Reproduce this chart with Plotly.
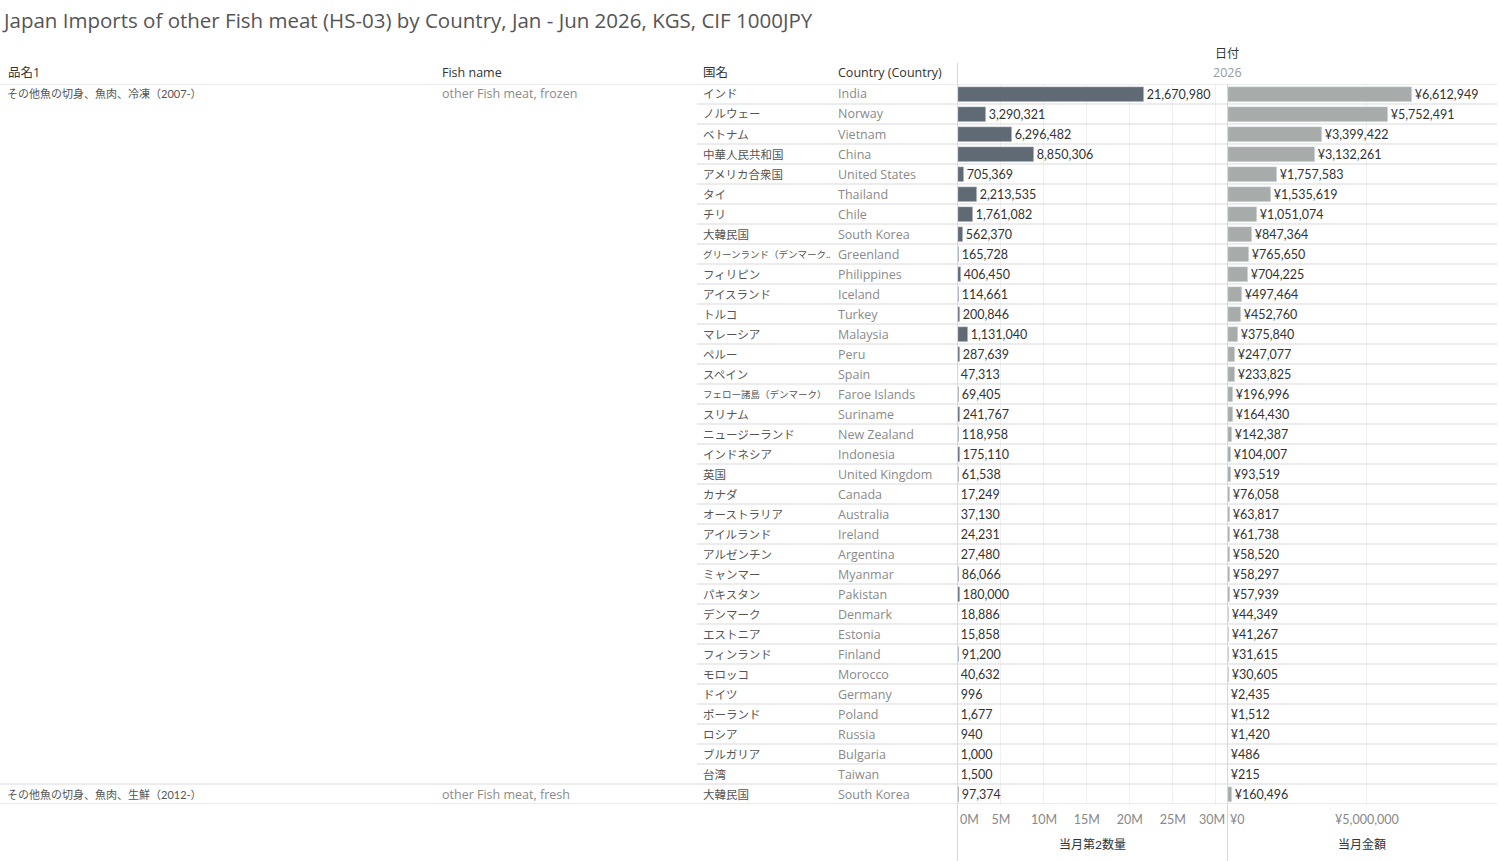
import plotly.graph_objects as go

W, H = 1499, 861

product_jp = ['その他魚の切身、魚肉、冷凍（2007-）', 'その他魚の切身、魚肉、生鮮（2012-）']
product_en = ['other Fish meat, frozen', 'other Fish meat, fresh']
product_rows = [0, 35]

country_jp = ['インド', 'ノルウェー', 'ベトナム', '中華人民共和国', 'アメリカ合衆国', 'タイ', 'チリ',
              '大韓民国', 'グリーンランド（デンマーク..', 'フィリピン', 'アイスランド', 'トルコ',
              'マレーシア', 'ペルー', 'スペイン', 'フェロー諸島（デンマーク）', 'スリナム',
              'ニュージーランド', 'インドネシア', '英国', 'カナダ', 'オーストラリア', 'アイルランド',
              'アルゼンチン', 'ミャンマー', 'パキスタン', 'デンマーク', 'エストニア', 'フィンランド',
              'モロッコ', 'ドイツ', 'ポーランド', 'ロシア', 'ブルガリア', '台湾', '大韓民国']
country_en = ['India', 'Norway', 'Vietnam', 'China', 'United States', 'Thailand', 'Chile',
              'South Korea', 'Greenland', 'Philippines', 'Iceland', 'Turkey', 'Malaysia', 'Peru',
              'Spain', 'Faroe Islands', 'Suriname', 'New Zealand', 'Indonesia', 'United Kingdom',
              'Canada', 'Australia', 'Ireland', 'Argentina', 'Myanmar', 'Pakistan', 'Denmark',
              'Estonia', 'Finland', 'Morocco', 'Germany', 'Poland', 'Russia', 'Bulgaria', 'Taiwan',
              'South Korea']
quantity = [21670980, 3290321, 6296482, 8850306, 705369, 2213535, 1761082, 562370, 165728,
            406450, 114661, 200846, 1131040, 287639, 47313, 69405, 241767, 118958, 175110,
            61538, 17249, 37130, 24231, 27480, 86066, 180000, 18886, 15858, 91200, 40632,
            996, 1677, 940, 1000, 1500, 97374]
amount = [6612949, 5752491, 3399422, 3132261, 1757583, 1535619, 1051074, 847364, 765650,
          704225, 497464, 452760, 375840, 247077, 233825, 196996, 164430, 142387, 104007,
          93519, 76058, 63817, 61738, 58520, 58297, 57939, 44349, 41267, 31615, 30605,
          2435, 1512, 1420, 486, 215, 160496]

qty_ticks = [0, 5e6, 10e6, 15e6, 20e6, 25e6, 30e6]
qty_ticktext = ['0M', '5M', '10M', '15M', '20M', '25M', '30M']
amt_ticks = [0, 5e6]
amt_ticktext = ['¥0', '¥5,000,000']

rows = list(range(len(country_en)))
LATIN = 'Open Sans, Noto Sans CJK JP, sans-serif'
NUM = 'Lato, Noto Sans CJK JP, sans-serif'
LINE = '#d9d9d9'


def px_x(p):
    return p / W


def px_y(p):
    return 1 - p / H


def label(x, y, text, font, xref='paper', yref='paper', xanchor='left', **kw):
    return dict(x=x, y=y, xref=xref, yref=yref, text=text, showarrow=False,
                xanchor=xanchor, yanchor='middle', font=font, **kw)


fig = go.Figure()
fig.add_trace(go.Bar(
    x=quantity, y=rows, orientation='h', xaxis='x', yaxis='y',
    marker_color='#5f6a75', width=0.75,
    text=[f'{v:,}' for v in quantity], textposition='outside',
    textfont=dict(size=12.5, color='#333333', family=NUM),
    cliponaxis=False, hoverinfo='skip'))
fig.add_trace(go.Bar(
    x=amount, y=rows, orientation='h', xaxis='x2', yaxis='y',
    marker_color='#a7abaa', width=0.75,
    text=[f'¥{v:,}' for v in amount], textposition='outside',
    textfont=dict(size=12.5, color='#333333', family=NUM),
    cliponaxis=False, hoverinfo='skip'))

jp_font = dict(size=11.5, color='#555555')
en_font = dict(size=12.5, color='#8a8a8a', family=LATIN)
head_font = dict(size=12.5, color='#333333', family=LATIN)

ann = []
for r, jp, en in zip(rows, country_jp, country_en):
    f = dict(jp_font, size=9.5) if len(jp) > 12 else jp_font
    ann.append(label(px_x(701), r, jp, f, yref='y'))
    ann.append(label(px_x(836), r, en, en_font, yref='y'))
for r, jp, en in zip(product_rows, product_jp, product_en):
    ann.append(label(px_x(5), r, jp, dict(jp_font, size=11), yref='y'))
    ann.append(label(px_x(440), r, en, en_font, yref='y'))

headers = [(6, '品名1'), (440, 'Fish name'), (701, '国名'), (836, 'Country (Country)')]
for xp, t in headers:
    ann.append(label(px_x(xp), px_y(73), t, head_font))
ann.append(label(px_x(1227), px_y(53), '日付', dict(size=12, color='#333333'), xanchor='center'))
ann.append(label(px_x(1227), px_y(73), '2026', dict(size=12.5, color='#999999', family=LATIN),
                 xanchor='center'))
ann.append(label(px_x(1092), px_y(844), '当月第2数量', dict(size=12, color='#333333'),
                 xanchor='center'))
ann.append(label(px_x(1362), px_y(844), '当月金額', dict(size=12, color='#333333'),
                 xanchor='center'))

# end tick labels are pulled inside their panel, as in the original
tick_font = dict(size=12.5, color='#888888', family=NUM)
ann.append(label(qty_ticks[0], px_y(819), qty_ticktext[0], tick_font, xref='x'))
ann.append(label(qty_ticks[-1], px_y(819), qty_ticktext[-1], tick_font, xref='x',
                 xanchor='center', xshift=-4))
ann.append(label(amt_ticks[0], px_y(819), amt_ticktext[0], tick_font, xref='x2'))

shapes = []
n = len(rows)
for i in range(n - 1):
    x0 = 0 if i + 1 in product_rows else px_x(697)
    shapes.append(dict(type='line', xref='paper', yref='y', x0=x0, x1=px_x(1497),
                       y0=i + 0.5, y1=i + 0.5, line=dict(color=LINE, width=1)))
for yv in [-0.5, n - 0.5]:
    shapes.append(dict(type='line', xref='paper', yref='y', x0=0, x1=px_x(1497),
                       y0=yv, y1=yv, line=dict(color=LINE, width=1)))
shapes.append(dict(type='line', xref='paper', yref='paper', x0=px_x(957.5), x1=px_x(957.5),
                   y0=px_y(63), y1=0, line=dict(color=LINE, width=1)))
shapes.append(dict(type='line', xref='paper', yref='paper', x0=px_x(1227.5), x1=px_x(1227.5),
                   y0=px_y(84), y1=0, line=dict(color=LINE, width=1)))

axis_common = dict(showgrid=True, gridcolor='#f0f0f0', zeroline=False, showline=False,
                   ticks='', tickfont=tick_font, anchor='y', automargin=False,
                   ticklabelstandoff=6, fixedrange=True)
fig.update_layout(
    width=W, height=H,
    margin=dict(l=0, r=0, t=0, b=0, autoexpand=False),
    paper_bgcolor='white', plot_bgcolor='white',
    font=dict(family=NUM, size=12, color='#333333'),
    showlegend=False, bargap=0,
    title=dict(text='Japan Imports of other Fish meat (HS-03) by Country, Jan - Jun 2026, KGS, CIF 1000JPY',
               x=px_x(4), xanchor='left', y=px_y(21), yanchor='middle',
               font=dict(size=20.5, color='#555555', family=LATIN)),
    xaxis=dict(domain=[px_x(958), px_x(1227)], range=[0, 31.3e6],
               tickvals=qty_ticks, ticktext=[''] + qty_ticktext[1:-1] + [''], **axis_common),
    xaxis2=dict(domain=[px_x(1228), px_x(1497)], range=[0, 9.68e6],
                tickvals=amt_ticks, ticktext=[''] + amt_ticktext[1:], **axis_common),
    yaxis=dict(domain=[px_y(804), px_y(84)], range=[n - 0.5, -0.5], showgrid=False,
               zeroline=False, showticklabels=False, automargin=False, fixedrange=True),
    annotations=ann, shapes=shapes,
)

fig.write_html('out.html', config={'displayModeBar': False},
               post_script="document.body.style.margin='0';")
